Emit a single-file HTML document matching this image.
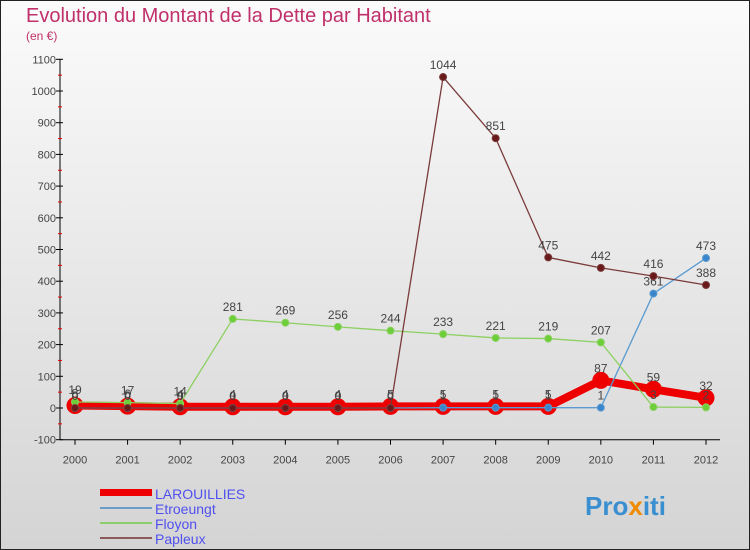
<!DOCTYPE html>
<html><head><meta charset="utf-8"><style>
body{margin:0;width:750px;height:550px;overflow:hidden;font-family:"Liberation Sans",sans-serif}
svg{display:block}
</style></head><body>
<svg id="c" width="750" height="550">
<defs><linearGradient id="bg" x1="0" y1="0" x2="0" y2="1"><stop offset="0" stop-color="#fbfbfb"/><stop offset="1" stop-color="#d4d4d4"/></linearGradient></defs>
<rect x="0.5" y="0.5" width="749" height="549" fill="url(#bg)" stroke="#222"/>
<text x="26" y="22" font-size="20" fill="#c0306a">Evolution du Montant de la Dette par Habitant</text>
<text x="26" y="40" font-size="12" fill="#c0306a">(en €)</text>
<g id="axes"></g><g id="series"></g>
<g>
<rect x="100" y="489" width="52" height="7" fill="#e00"/>
<text x="155" y="499" font-size="14" fill="#5050f0">LAROUILLIES</text>
<rect x="100" y="507" width="52" height="2" fill="#6a9ec8"/>
<text x="155" y="514" font-size="14" fill="#5050f0">Etroeungt</text>
<rect x="100" y="522" width="52" height="2" fill="#8ccf6a"/>
<text x="155" y="529" font-size="14" fill="#5050f0">Floyon</text>
<rect x="100" y="537" width="52" height="2" fill="#8a5a5a"/>
<text x="155" y="544" font-size="14" fill="#5050f0">Papleux</text>
</g>
<text x="585" y="515" font-size="26" font-weight="bold" fill="#3a8fd0">Pro<tspan fill="#f08a00">x</tspan>iti</text>
</svg>
<script>
const years=[2000,2001,2002,2003,2004,2005,2006,2007,2008,2009,2010,2011,2012];
const yTicks=[-100,0,100,200,300,400,500,600,700,800,900,1000,1100];
const larouillies=[8,6,4,4,4,4,5,5,5,5,87,59,32];
const etroeungt=[0,0,0,0,0,0,0,1,1,1,1,361,473];
const floyon=[19,17,14,281,269,256,244,233,221,219,207,3,2];
const papleux=[0,0,0,0,0,0,0,1044,851,475,442,416,388];
const NS="http://www.w3.org/2000/svg";
const X=y=>75+(y-2000)*(706-75)/12;
const Y=v=>408-v*(408-91)/1000;
function mk(t,a,p){const e=document.createElementNS(NS,t);for(const k in a)e.setAttribute(k,a[k]);p.appendChild(e);return e;}
const ax=document.getElementById('axes');
mk('line',{x1:60,y1:Y(1100),x2:60,y2:Y(-100),stroke:'#000'},ax);
mk('line',{x1:60,y1:Y(-100),x2:720,y2:Y(-100),stroke:'#000'},ax);
yTicks.forEach(v=>{
 const l=mk('line',{x1:56,y1:Y(v),x2:63,y2:Y(v),stroke:'#000'},ax);
 
 
 mk('line',{x1:58,y1:Y(v+50),x2:62,y2:Y(v+50),stroke:v<1100?'#e00':'none'},ax);
 const t=mk('text',{x:56,y:Y(v)+4,'font-size':11,'text-anchor':'end',fill:'#444'},ax);
 t.textContent=v;
 
 
});
years.forEach(yr=>{
 mk('line',{x1:X(yr),y1:Y(-100),x2:X(yr),y2:Y(-100)+5,stroke:'#000'},ax);
 const t=mk('text',{x:X(yr),y:Y(-100)+24,'font-size':11,'text-anchor':'middle',fill:'#444'},ax);
 t.textContent=yr;
 
 
});
const sg=document.getElementById('series');
function series(name,data,color,w,r,dot){
 const g=mk('g',{},sg);
 
 
 const p=mk('polyline',{points:data.map((v,i)=>X(years[i])+','+Y(v)).join(' '),fill:'none',stroke:color,'stroke-width':w,'stroke-linejoin':'round'},g);
 
 
 data.forEach((v,i)=>{
  const c=mk('circle',{cx:X(years[i]),cy:Y(v),r:r,fill:dot,stroke:color,'stroke-width':1},g);
  
  
  const t=mk('text',{x:X(years[i]),y:Y(v)-8,'font-size':12,'text-anchor':'middle',fill:'#444'},g);
  t.textContent=v;
  
  
 });
}
series('larouillies',larouillies,'#e00',8,8,'#e00');
series('etroeungt',etroeungt,'#5a9ad0',1.3,3.5,'#3a86cc');
series('floyon',floyon,'#8cd060',1.3,3.5,'#6ccf3a');
series('papleux',papleux,'#7a3a3a',1.3,3.5,'#6a1a1a');
</script>
</body></html>
